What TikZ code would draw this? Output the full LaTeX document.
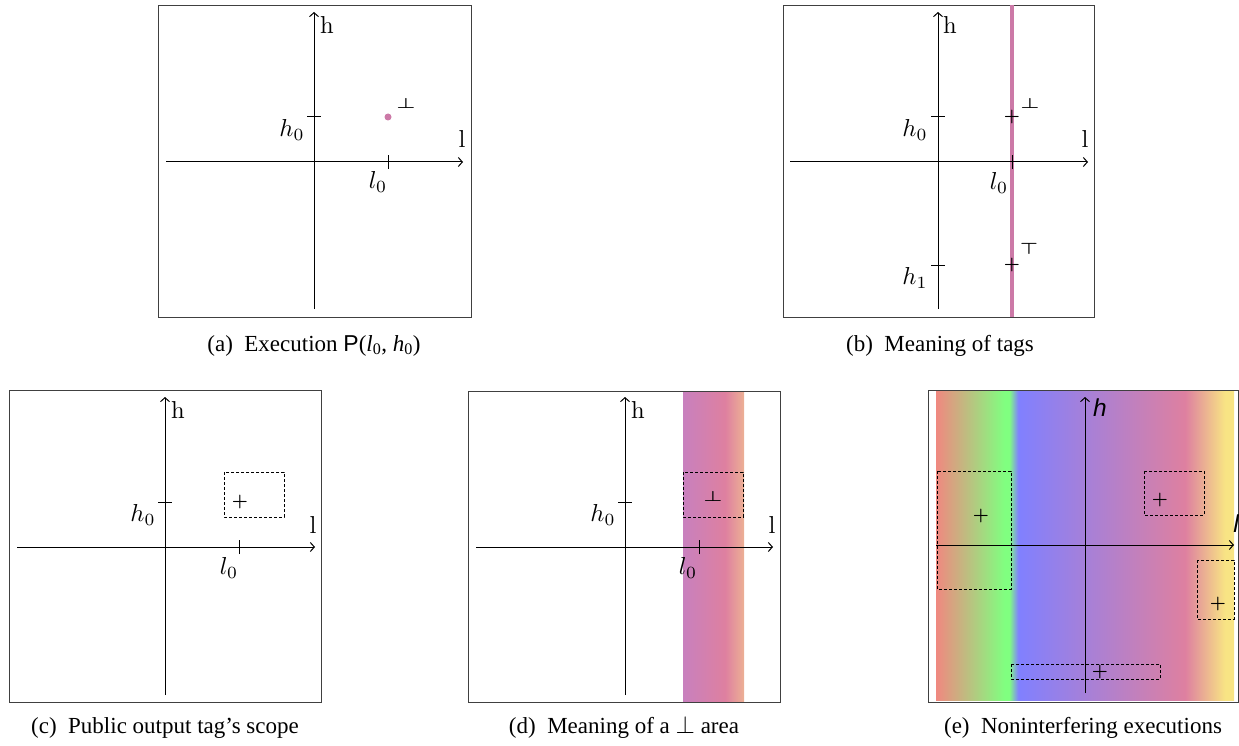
\documentclass[tikz,border=0pt]{standalone}
\usepackage{fontspec}
\usepackage{amsmath}
\usepackage{graphicx}
\usepackage{xcolor}
\usepackage{tikz}
\usetikzlibrary{arrows.meta}
\setsansfont{Liberation Sans}
\newfontfamily\capfont{Liberation Serif}

% colours of the tag areas
\definecolor{tagpink}{RGB}{204,121,167}
\definecolor{rbred}{RGB}{240,136,128}
\definecolor{rbgreen}{RGB}{128,255,128}
\definecolor{rbblue}{RGB}{128,128,255}
\definecolor{rbpink}{RGB}{222,128,160}
\definecolor{rbyellow}{RGB}{248,228,132}
\definecolor{bandleft}{RGB}{200,128,190}
\definecolor{bandright}{RGB}{236,176,148}

\pgfdeclarehorizontalshading{rainbowtags}{100bp}{color(0bp)=(rbred); color(25bp)=(rbred);
  color(36.5bp)=(rbgreen); color(37.3bp)=(rbgreen); color(38.8bp)=(rbblue);
  color(66.8bp)=(rbpink); color(73.5bp)=(rbyellow); color(100bp)=(rbyellow)}
\pgfdeclarehorizontalshading{botband}{100bp}{color(0bp)=(bandleft); color(25bp)=(bandleft);
  color(59.5bp)=(rbpink); color(75bp)=(bandright); color(100bp)=(bandright)}

% labels are set at 10pt and blown up, like the scaled figure
\newcommand{\axlab}[1]{\scalebox{2.45}{#1}}
\newcommand{\botsym}{\scalebox{2.1}[1.45]{$\boldsymbol{\bot}$}}
\newcommand{\topsym}{\scalebox{2.0}[1.6]{$\boldsymbol{\top}$}}
\newcommand{\plussym}{\scalebox{1.8}{$\boldsymbol{+}$}}

\tikzset{
  panelframe/.style={draw=black!75, line width=0.8pt},
  axis/.style={-{Straight Barb[length=4pt, width=9pt]}, line width=1pt},
  axtick/.style={line width=1pt},
  scopebox/.style={draw, dash pattern=on 3pt off 2pt, line width=1pt},
  lbl/.style={font=\fontsize{10}{12}\selectfont, inner sep=0pt},
  sflbl/.style={font=\fontsize{10}{12}\selectfont\sffamily\itshape, inner sep=0pt},
  capnode/.style={font=\capfont\fontsize{23}{27}\selectfont, anchor=base, inner sep=0pt},
}

\begin{document}
\begin{tikzpicture}[x=1pt, y=1pt]
    \useasboundingbox (0,0) rectangle (1239,-746);

    % (a) one execution
    \begin{scope}[shift={(314,-162)}]
        \draw[panelframe] (-156,157) rectangle (157,-155);
        \draw[axis] (-148,0) -- (149,0);
        \draw[axis] (0,-147) -- (0,150);
        \coordinate (Pa) at (74,45);
        \draw[axtick] (-7,45) -- (7,45);
        \draw[axtick] (74,-7) -- (74,7);
        \fill[tagpink] (Pa) circle (3.5);
        \node[lbl] (ha) at (13,137) {\axlab{h}};
        \node[lbl] (la) at (148,23) {\axlab{l}};
        \node[lbl] (h0a) at (-22,32) {\axlab{$h_0$}};
        \node[lbl] (l0a) at (64,-20) {\axlab{$l_0$}};
        \node[lbl] (bota) at (92,59) {\botsym};
    \end{scope}

    % (b) tags along the line l = l0
    \begin{scope}[shift={(938,-162)}]
        \draw[panelframe] (-155,157) rectangle (156,-155);
        \draw[tagpink, line width=4pt] (74,157) -- (74,-155);
        \draw[axis] (-148,0) -- (150,0);
        \draw[axis] (0,-147) -- (0,150);
        \draw[axtick] (-7,45) -- (7,45);
        \draw[axtick] (-7,-103) -- (7,-103);
        \draw[axtick] (74,-7) -- (74,7);
        \node[lbl] (Pb) at (74,45) {\plussym};
        \node[lbl] (Qb) at (74,-103) {\plussym};
        \node[lbl] (hb) at (12,137) {\axlab{h}};
        \node[lbl] (lb) at (147,23) {\axlab{l}};
        \node[lbl] (h0b) at (-23,32) {\axlab{$h_0$}};
        \node[lbl] (h1b) at (-23,-116) {\axlab{$h_1$}};
        \node[lbl] (l0b) at (61,-21) {\axlab{$l_0$}};
        \node[lbl] (botb) at (92,59) {\botsym};
        \node[lbl] (topb) at (91,-87) {\topsym};
    \end{scope}

    % (c) scope of a public output tag
    \begin{scope}[shift={(165,-547)}]
        \draw[panelframe] (-156,157) rectangle (156,-155);
        \draw[axis] (-148,0) -- (150,0);
        \draw[axis] (0,-148) -- (0,150);
        \draw[axtick] (-7,45) -- (7,45);
        \draw[axtick] (74,-7) -- (74,7);
        \draw[scopebox] (59,75) rectangle (119,30);
        \node[lbl] (Pc) at (75,45) {\plussym};
        \node[lbl] (hc) at (13,137) {\axlab{h}};
        \node[lbl] (lc) at (148,22) {\axlab{l}};
        \node[lbl] (h0c) at (-22,32) {\axlab{$h_0$}};
        \node[lbl] (l0c) at (64,-21) {\axlab{$l_0$}};
    \end{scope}

    % (d) a bottom area
    \begin{scope}[shift={(625,-547)}]
        \shade[shading=botband] (58,156) rectangle (119,-155);
        \draw[panelframe] (-157,156) rectangle (155,-155);
        \draw[axis] (-149,0) -- (148,0);
        \draw[axis] (0,-148) -- (0,150);
        \draw[axtick] (-7,45) -- (7,45);
        \draw[axtick] (74,-7) -- (74,7);
        \draw[scopebox] (58,75) rectangle (118,30);
        \node[lbl] (botd) at (88,51) {\botsym};
        \node[lbl] (hd) at (13,137) {\axlab{h}};
        \node[lbl] (ld) at (147,22) {\axlab{l}};
        \node[lbl] (h0d) at (-22,32) {\axlab{$h_0$}};
        \node[lbl] (l0d) at (63,-21) {\axlab{$l_0$}};
    \end{scope}

    % (e) noninterfering executions
    \begin{scope}[shift={(1085,-545)}]
        \shade[shading=rainbowtags] (-149,155) rectangle (149,-155);
        \draw[panelframe] (-157,155) rectangle (153,-157);
        \draw[scopebox] (-148,74) rectangle (-74,-44);
        \draw[scopebox] (59,74) rectangle (119,30);
        \draw[scopebox] (112,-15) rectangle (149,-74);
        \draw[scopebox] (-74,-119) rectangle (75,-134);
        \draw[axis] (-149,0) -- (149,0);
        \draw[axis] (0,-148) -- (0,148);
        \node[lbl] (Pe1) at (-104,29) {\plussym};
        \node[lbl] (Pe2) at (75,45) {\plussym};
        \node[lbl] (Pe3) at (133,-59) {\plussym};
        \node[lbl] (Pe4) at (15,-127) {\plussym};
        \node[sflbl] (he) at (15,137) {\axlab{h}};
        \node[sflbl] (le) at (151,21) {\axlab{l}};
    \end{scope}

    % captions
    \node[capnode] (capa) at (314,-351) {(a)\enspace Execution {\sffamily P}(\textit{l}\textsubscript{0}, \textit{h}\textsubscript{0})};
    \node[capnode] (capb) at (940,-351) {(b)\enspace Meaning of tags};
    \node[capnode] (capc) at (165,-733) {(c)\enspace Public output tag’s scope};
    \node[capnode] (capd) at (624,-733) {(d)\enspace Meaning of a $\bot$ area};
    \node[capnode] (cape) at (1083,-733) {(e)\enspace Noninterfering executions};

\end{tikzpicture}
\end{document}
